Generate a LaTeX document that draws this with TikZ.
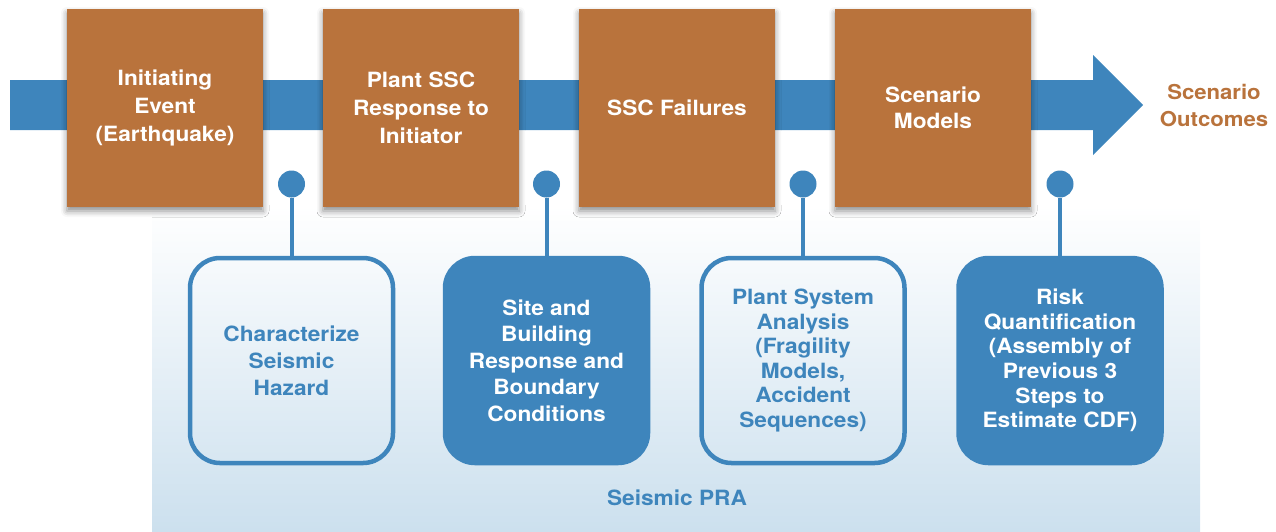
\documentclass[tikz,border=0pt]{standalone}
\usepackage{fontspec}
\setmainfont[FakeStretch=1.08]{TeX Gyre Heros}
\usetikzlibrary{shadows.blur}
\definecolor{rust}{HTML}{B9733C}
\definecolor{steel}{HTML}{3E85BC}
\definecolor{mist}{HTML}{CCE0EE}

\tikzset{
	stage/.style={fill=rust, minimum width=196pt, minimum height=198pt, inner sep=0pt,
		text=white, align=center, font=\bfseries\fontsize{21}{28}\selectfont,
		blur shadow={shadow xshift=0pt, shadow yshift=-4pt, shadow blur radius=6pt, shadow opacity=45}},
	task/.style={draw=steel, line width=4.5pt, rounded corners=30pt, minimum width=203pt,
		minimum height=205pt, inner sep=0pt, align=center},
	openbox/.style={task, text=steel},
	fullbox/.style={task, fill=steel, text=white},
	pin/.style={circle, fill=steel, minimum size=27pt, inner sep=0pt},
}

\begin{document}
\begin{tikzpicture}[x=1pt, y=-1pt]
	\useasboundingbox (0,0) rectangle (1276,531);
	\shade[top color=white, bottom color=mist] (152,205) rectangle (1200,531);
	% main flow arrow
	\fill[steel] (10,80) -- (1093,80) -- (1093,55) -- (1143,105) -- (1093,155) -- (1093,130) -- (10,130) -- cycle;

	\node[stage] (event) at (165,108) {Initiating\\Event\\(Earthquake)};
	\node[stage] (response) at (421,108) {Plant SSC\\Response to\\Initiator};
	\node[stage] (failures) at (677,108) {SSC Failures};
	\node[stage, font=\bfseries\fontsize{21}{26}\selectfont] (models) at (933,108) {Scenario\\Models};
	\node[text=rust, align=center, font=\bfseries\fontsize{20.5}{27}\selectfont] (outcomes) at (1214,105) {Scenario\\Outcomes};

	\node[openbox, font=\bfseries\fontsize{21}{27}\selectfont] (hazard) at (291.5,360.5) {Characterize\\Seismic\\Hazard};
	\node[fullbox, font=\bfseries\fontsize{21}{26.5}\selectfont] (site) at (546.5,360.5) {Site and\\Building\\Response and\\Boundary\\Conditions};
	\node[openbox, font=\bfseries\fontsize{21}{24.6}\selectfont] (system) at (803,360.5) {Plant System\\Analysis\\(Fragility\\Models,\\Accident\\Sequences)};
	\node[fullbox, font=\bfseries\fontsize{21}{24.6}\selectfont] (risk) at (1060,360.5) {Risk\\Quantification\\(Assembly of\\Previous 3\\Steps to\\Estimate CDF)};

	\foreach \t/\x in {hazard/291.5, site/546.5, system/803, risk/1060} {
		\node[pin] (pin-\t) at (\x,184) {};
		\draw[steel, line width=4pt] (pin-\t) -- (\t.north);
	}

	\node[text=steel, font=\bfseries\fontsize{21}{24}\selectfont] (pra) at (677,498) {Seismic PRA};
\end{tikzpicture}
\end{document}
